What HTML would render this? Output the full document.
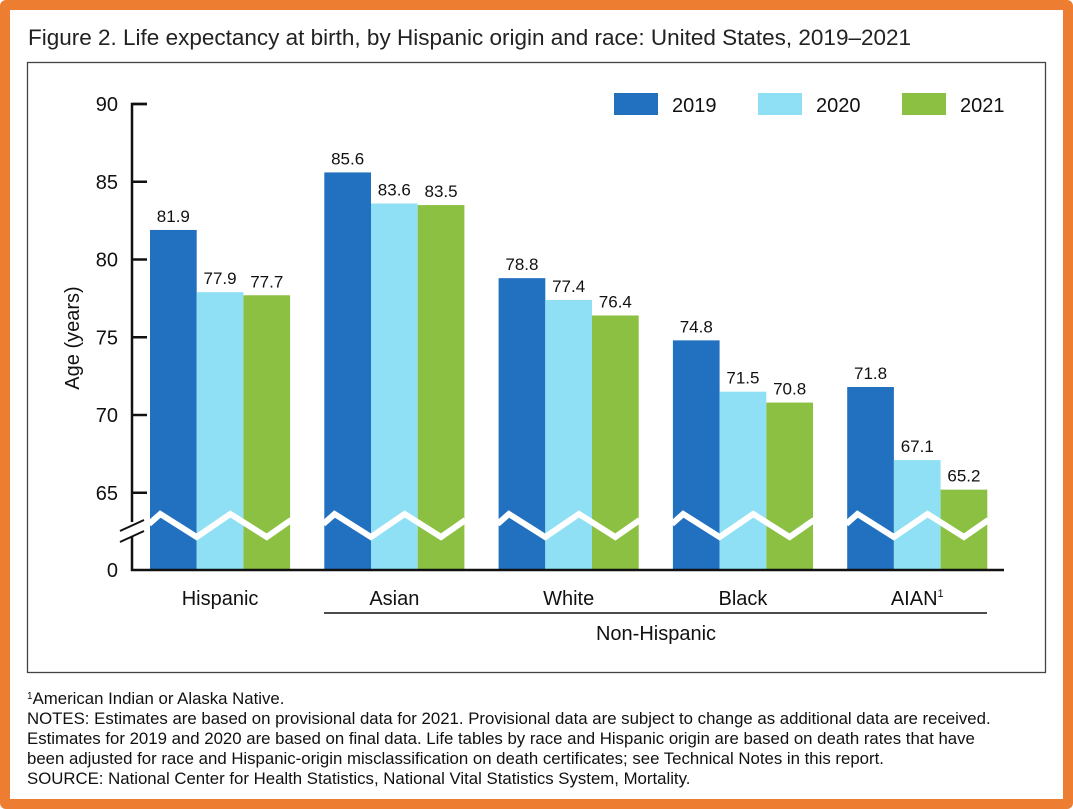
<!DOCTYPE html>
<html><head><meta charset="utf-8">
<style>
html,body{margin:0;padding:0;background:#fff;}
body{width:1073px;height:809px;position:relative;overflow:hidden;font-family:"Liberation Sans",Arial,sans-serif;}
.frame{position:absolute;left:0;top:0;width:1053px;height:789px;border:10px solid #ed7d31;border-radius:6px;}
</style></head>
<body>
<div class="frame"></div>
<svg width="1073" height="809" style="position:absolute;left:0;top:0" font-family="Liberation Sans, Arial, sans-serif">
<text x="28" y="45" font-size="22.5" fill="#222">Figure 2. Life expectancy at birth, by Hispanic origin and race: United States, 2019–2021</text>
<rect x="27.5" y="62.5" width="1018" height="610" fill="none" stroke="#444" stroke-width="1.3"/>
<g id="plot"></g>
<text transform="translate(79,338) rotate(-90)" text-anchor="middle" font-size="20" fill="#111">Age (years)</text>
<g>
<rect x="614" y="93" width="44" height="22" fill="#2270c0"/>
<text x="672" y="112" font-size="20" fill="#111">2019</text>
<rect x="758" y="93" width="44" height="22" fill="#8fe0f4"/>
<text x="816" y="112" font-size="20" fill="#111">2020</text>
<rect x="902" y="93" width="44" height="22" fill="#8bc043"/>
<text x="960" y="112" font-size="20" fill="#111">2021</text>
</g>
<line x1="324" y1="613" x2="987" y2="613" stroke="#111" stroke-width="1.5"/>
<text x="656" y="640" text-anchor="middle" font-size="20" fill="#111">Non-Hispanic</text>
<g font-size="16.8" fill="#111">
<text x="27" y="704"><tspan font-size="10" dy="-5">1</tspan><tspan dy="5">American Indian or Alaska Native.</tspan></text>
<text x="27" y="724">NOTES: Estimates are based on provisional data for 2021. Provisional data are subject to change as additional data are received.</text>
<text x="27" y="744">Estimates for 2019 and 2020 are based on final data. Life tables by race and Hispanic origin are based on death rates that have</text>
<text x="27" y="764">been adjusted for race and Hispanic-origin misclassification on death certificates; see Technical Notes in this report.</text>
<text x="27" y="784">SOURCE: National Center for Health Statistics, National Vital Statistics System, Mortality.</text>
</g>
</svg>
<script>
const categories=["Hispanic","Asian","White","Black","AIAN"];
const seriesNames=["2019","2020","2021"];
const v2019=[81.9,85.6,78.8,74.8,71.8];
const v2020=[77.9,83.6,77.4,71.5,67.1];
const v2021=[77.7,83.5,76.4,70.8,65.2];
const yTicks=[65,70,75,80,85,90];
const colors=["#2270c0","#8fe0f4","#8bc043"];
const NS="http://www.w3.org/2000/svg";
const g=document.getElementById('plot');
const y0=570, yAx=132;
function y(v){return 104+(90-v)*15.55;}
function gx(i){return 150+i*174.3;}
const bw=46.7;
function mk(t,a){const e=document.createElementNS(NS,t);for(const k in a)e.setAttribute(k,a[k]);g.appendChild(e);return e;}
const series=[v2019,v2020,v2021];
series.forEach((arr,s)=>{arr.forEach((v,i)=>{
 const x=gx(i)+s*bw;
 const r=mk('rect',{x:x,y:y(v),width:bw,height:y0-y(v),fill:colors[s]});
 
 
 const t=mk('text',{x:x+bw/2,y:y(v)-8,'text-anchor':'middle','font-size':17,fill:'#111'});
 t.textContent=v.toFixed(1);
 
 
});});
categories.forEach((c,i)=>{
 const x=gx(i);const w=3*bw;
 let d='M'+(x-1)+' 524';
 const pts=[[x+bw*0.22,514],[x+bw*1.0,537],[x+bw*1.72,514],[x+bw*2.5,537],[x+w+1,520]];
 pts.forEach(p=>d+=' L'+p[0]+' '+p[1]);
 const p=mk('path',{d:d,fill:'none',stroke:'#fff','stroke-width':6});
 
 
 const t=mk('text',{x:x+w/2,y:605,'text-anchor':'middle','font-size':20,fill:'#111'});
 t.textContent=c;
 if(c==='AIAN'){const ts=document.createElementNS(NS,'tspan');ts.setAttribute('font-size','11');ts.setAttribute('dy','-8');ts.textContent='1';t.appendChild(ts);}
 
 
});
let a=mk('path',{d:'M147 104 L'+yAx+' 104 L'+yAx+' 522 M'+yAx+' 536 L'+yAx+' '+y0+' L1004 '+y0,fill:'none',stroke:'#111','stroke-width':2.5});


let b=mk('path',{d:'M120 531 L144 520 M120 542 L144 531',stroke:'#111','stroke-width':2});


yTicks.forEach(v=>{
 const l=mk('line',{x1:yAx,x2:147,y1:y(v),y2:y(v),stroke:'#111','stroke-width':2.5});
 
 
 const t=mk('text',{x:118,y:y(v)+7,'text-anchor':'end','font-size':20,fill:'#111'});
 t.textContent=v;
 
 
});
const z=mk('text',{x:118,y:y0+7,'text-anchor':'end','font-size':20,fill:'#111'});
z.textContent='0';


</script>
</body></html>
